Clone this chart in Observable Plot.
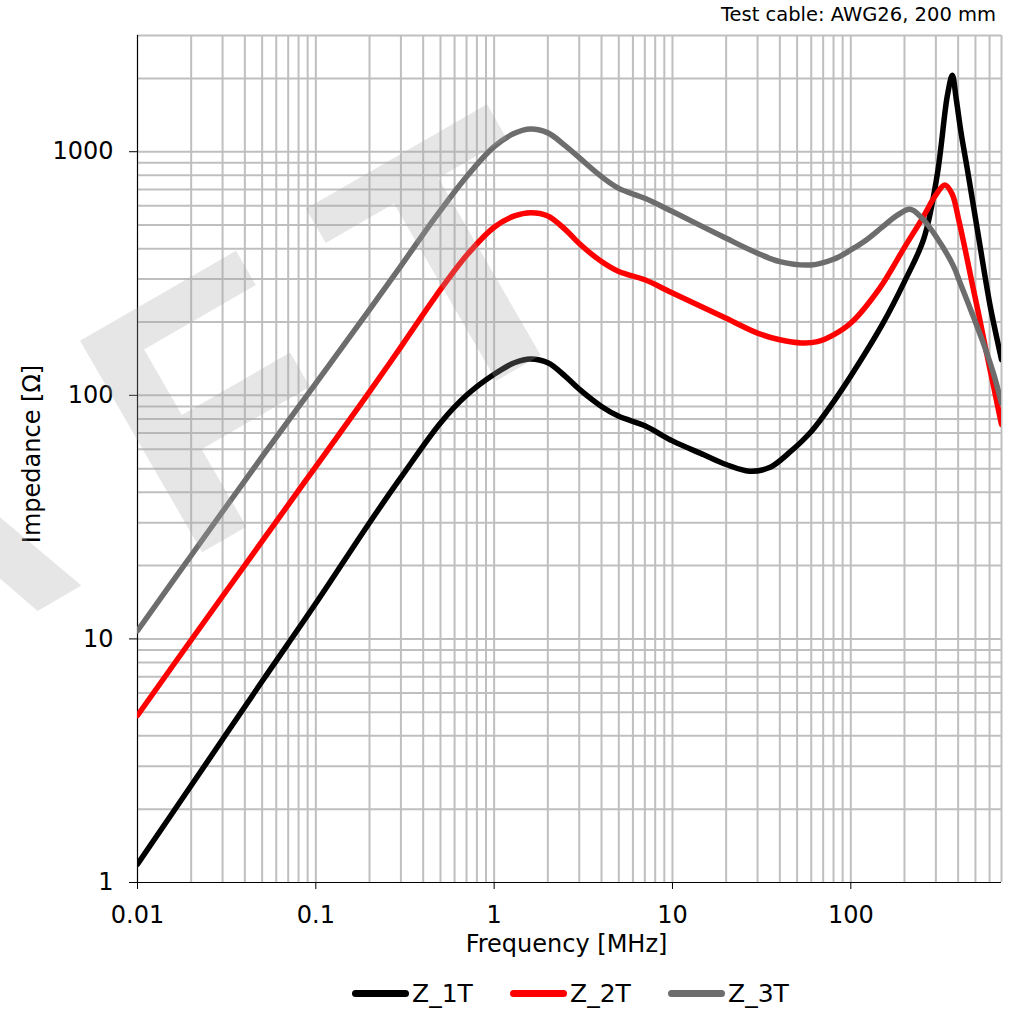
<!DOCTYPE html>
<html><head><meta charset="utf-8">
<script src="https://cdn.jsdelivr.net/npm/d3@7"></script>
<script src="https://cdn.jsdelivr.net/npm/@observablehq/plot@0.6"></script>
<style>
html,body{margin:0;padding:0;background:#fff;}
#page{position:relative;width:1022px;height:1009px;overflow:hidden;font-family:"DejaVu Sans",sans-serif;color:#000;background:#fff;}
#title{position:relative;height:28px;}
#title span{position:absolute;right:26px;top:5px;font-size:19.5px;line-height:1;white-space:nowrap;}
#chart svg{display:block;}
#legend{position:relative;height:49px;}
.item{position:absolute;top:9px;height:49px;display:flex;align-items:center;}
.sw{width:57px;height:7px;border-radius:3.5px;margin-right:3px;}
.lab{font-size:25px;line-height:1;white-space:nowrap;}
#wm{position:absolute;left:0;top:0;pointer-events:none;}
</style></head><body>
<div id="page">
  <div id="title"><span id="titletext"></span></div>
  <div id="chart"></div>
  <div id="legend"></div>
  <svg id="wm" width="1022" height="1009"></svg>
</div>
<script>
// ---- data ----
const seriesNames = ["Z_1T", "Z_2T", "Z_3T"];
const seriesColors = ["#000000", "#ff0000", "#6d6d6d"];

const freq1 = [0.01, 0.02, 0.05, 0.1, 0.2, 0.3, 0.5, 0.7, 1, 1.3, 1.6, 2, 2.5, 3, 4, 5, 7, 10, 15, 20, 27, 35, 45, 60, 80, 100, 150, 200, 257, 305, 348, 371, 390, 415, 450, 480, 525, 600, 650, 700];
const imp1  = [1.19, 2.5, 6.7, 14, 30, 46, 77, 100, 122, 136, 141, 136, 120, 106, 90, 82, 75, 65, 57, 52, 48.8, 50.5, 58, 71, 94, 120, 195, 293, 441, 800, 1700, 2060, 1650, 1200, 850, 640, 430, 240, 180, 140];

const freq2 = [0.01, 0.02, 0.05, 0.1, 0.19, 0.3, 0.47, 0.7, 1, 1.3, 1.6, 2, 2.5, 3, 4, 5, 7, 10, 20, 30, 40, 53, 65, 80, 100, 145, 200, 252, 300, 337, 370, 404, 440, 481, 525, 570, 630, 700];
const imp2  = [4.85, 9.9, 25.2, 51, 98, 158, 255, 375, 490, 545, 562, 545, 480, 420, 354, 322, 298, 263, 207, 180, 169, 164, 166, 177, 198, 275, 405, 533, 665, 730, 670, 520, 390, 284, 210, 156, 110, 76];

const freq3 = [0.01, 0.02, 0.05, 0.1, 0.2, 0.3, 0.47, 0.7, 1, 1.3, 1.6, 2, 2.5, 3, 4, 5, 7, 10, 20, 30, 40, 60, 80, 100, 120, 150, 180, 215, 250, 300, 376, 410, 487, 560, 631, 700];
const imp3  = [10.8, 22, 56, 112, 225, 340, 540, 790, 1050, 1190, 1240, 1195, 1060, 945, 790, 707, 644, 568, 441, 383, 354, 343, 362, 395, 430, 490, 545, 580, 535, 450, 340, 290, 210, 160, 123, 93];

const xTicks = [0.01, 0.1, 1, 10, 100];
const xTickLabels = ["0.01", "0.1", "1", "10", "100"];
const yTicks = [1, 10, 100, 1000];
const yTickLabels = ["1", "10", "100", "1000"];

const xGrid = [0.02, 0.03, 0.04, 0.05, 0.06, 0.07, 0.08, 0.09, 0.1,
               0.2, 0.3, 0.4, 0.5, 0.6, 0.7, 0.8, 0.9, 1,
               2, 3, 4, 5, 6, 7, 8, 9, 10,
               20, 30, 40, 50, 60, 70, 80, 90, 100,
               200, 300, 400, 500, 600, 700];
const yGrid = [2, 3, 4, 5, 6, 7, 8, 9, 10,
               20, 30, 40, 50, 60, 70, 80, 90, 100,
               200, 300, 400, 500, 600, 700, 800, 900, 1000,
               2000, 3000];

const titleText = "Test cable: AWG26, 200 mm";
const xLabel = "Frequency [MHz]";
const yLabel = "Impedance [Ω]";
const watermarkLetters = ["A", "F", "T"];

// ---- table ----
const rows = [];
[[freq1, imp1], [freq2, imp2], [freq3, imp3]].forEach(([f, z], i) => {
  f.forEach((v, j) => rows.push({series: seriesNames[i], f: v, z: z[j]}));
});

const font = '"DejaVu Sans", sans-serif';
const chart = Plot.plot({
  width: 1022,
  height: 932,
  marginLeft: 137,
  marginRight: 21,
  marginTop: 7,
  marginBottom: 78,
  style: {fontFamily: font, fontSize: "24px", color: "#000", background: "#fff", overflow: "visible"},
  x: {type: "log", domain: [0.01, 700]},
  y: {type: "log", domain: [1, 3000]},
  color: {domain: seriesNames, range: seriesColors},
  marks: [
    Plot.ruleX(xGrid, {stroke: "#bfbfbf", strokeWidth: 2}),
    Plot.ruleY(yGrid, {stroke: "#bfbfbf", strokeWidth: 2}),
    Plot.ruleX([0.01], {stroke: "#000", strokeWidth: 1.2}),
    Plot.ruleY([1], {stroke: "#000", strokeWidth: 1.2}),
    Plot.axisX(xTicks, {tickSize: 7, tickPadding: 16, label: null, fontSize: 24,
      tickFormat: d => xTickLabels[xTicks.indexOf(d)]}),
    Plot.axisY(yTicks, {tickSize: 8, tickPadding: 16, label: null, fontSize: 24,
      tickFormat: d => yTickLabels[yTicks.indexOf(d)]}),
    Plot.line(rows, {x: "f", y: "z", z: "series", stroke: "series", strokeWidth: 5.5,
      curve: "catmull-rom", strokeLinecap: "round", strokeLinejoin: "round", clip: true}),
    Plot.text([xLabel], {frameAnchor: "bottom", dx: -3, dy: 62, fontSize: 24, textAnchor: "middle", lineAnchor: "middle"}),
    Plot.text([yLabel], {frameAnchor: "left", dx: -105, dy: -5, rotate: -90, fontSize: 24, textAnchor: "middle", lineAnchor: "middle"})
  ]
});
document.getElementById("chart").appendChild(chart);

// title
document.getElementById("titletext").textContent = titleText;

// legend
const legend = document.getElementById("legend");
seriesNames.forEach((name, i) => {
  const item = document.createElement("div");
  item.className = "item";
  item.style.left = (352 + 158 * i) + "px";
  const sw = document.createElement("span");
  sw.className = "sw";
  sw.style.background = seriesColors[i];
  const lab = document.createElement("span");
  lab.className = "lab";
  lab.textContent = name;
  item.appendChild(sw);
  item.appendChild(lab);
  legend.appendChild(item);
});

// watermark (decoration overlay, letters visible in the picture)
const wm = d3.select("#wm");
const wmCenters = [[-85, 535], [212, 400], [455, 258]];
const g = wm.append("g")
  .attr("fill", "#a6a6a6")
  .attr("fill-opacity", 0.28)
  .attr("font-family", '"Liberation Sans", Arial, sans-serif')
  .attr("font-weight", "bold")
  .attr("font-size", 355);
watermarkLetters.forEach((ch, i) => {
  g.append("text")
    .attr("transform", `translate(${wmCenters[i][0]},${wmCenters[i][1]}) rotate(-30)`)
    .attr("text-anchor", "middle")
    .attr("y", 127)
    .text(ch);
});
</script>
</body></html>
